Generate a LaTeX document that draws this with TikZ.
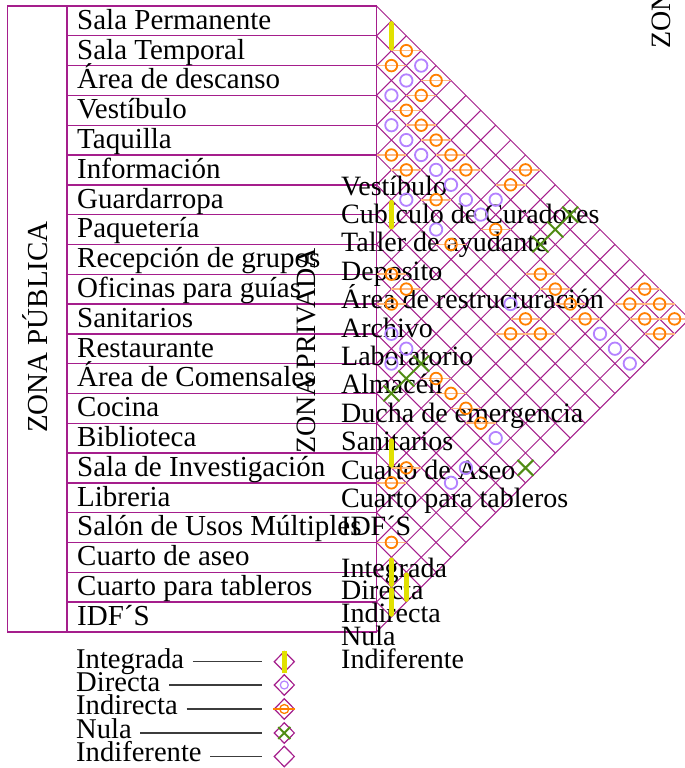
\documentclass[tikz,border=0pt]{standalone}
\usepackage{fontspec}
\setmainfont{Liberation Serif}
\usetikzlibrary{shapes.geometric,calc}
\definecolor{mag}{RGB}{165,30,140}
\definecolor{orC}{RGB}{255,128,0}
\definecolor{orL}{RGB}{255,185,130}
\definecolor{purC}{RGB}{180,130,255}
\definecolor{yelC}{RGB}{225,225,0}
\definecolor{grnC}{RGB}{80,140,20}
\definecolor{legC}{RGB}{60,60,60}
\def\mgx{376.5}
\def\mgy{6}
\def\mgh{14.9}
\begin{document}
\begin{tikzpicture}[x=1pt,y=-1pt,font=\fontsize{28}{28}\selectfont,
  lbl/.style={anchor=base west,inner sep=0pt},
  publbl/.style={anchor=base west,inner sep=0pt,font=\fontsize{29}{29}\selectfont},
  leglbl/.style={anchor=base west,inner sep=0pt,font=\fontsize{28.6}{28.6}\selectfont},
  gridln/.style={draw=mag,line width=1pt},
  tabln/.style={draw=mag,line width=1.4pt},
  orln/.style={draw=orL,line width=1.6pt},
  orcirc/.style={draw=orC,line width=1.8pt},
  purcirc/.style={draw=purC,line width=1.8pt},
  yelbar/.style={draw=yelC,line width=5.5pt,line cap=round},
  grnx/.style={draw=grnC,line width=2pt},
  legdia/.style={diamond,draw=mag,line width=1.2pt,minimum width=20.6pt,minimum height=21pt,inner sep=0pt},
  legln/.style={draw=legC,line width=1.2pt,shorten <=8.5pt,shorten >=11pt}]
\useasboundingbox (0,0) rectangle (685,768);
\fill[white] (0,0) rectangle (685,768);

% public table
\draw[tabln] (7.5,6) rectangle (376.5,632);
\draw[tabln] (67,6) -- (67,632);
\foreach \k in {1,...,20} \draw[tabln] (67,{6+\k*29.8}) -- (376.5,{6+\k*29.8});

% diamond grid
\foreach \k in {0,...,21} {
  \draw[gridln] (\mgx,{\mgy+2*\k*\mgh}) -- ({\mgx+(21-\k)*\mgh},{\mgy+(21+\k)*\mgh});
  \draw[gridln] (\mgx,{\mgy+2*\k*\mgh}) -- ({\mgx+\k*\mgh},{\mgy+\k*\mgh});
}

% public labels
\foreach \t [count=\i] in {Sala Permanente,Sala Temporal,Área de descanso,Vestíbulo,Taquilla,Información,Guardarropa,Paquetería,Recepción de grupos,Oficinas para guías,Sanitarios,Restaurante,Área de Comensales,Cocina,Biblioteca,Sala de Investigación,Libreria,Salón de Usos Múltiples,Cuarto de aseo,Cuarto para tableros,IDF´S}
  \node[publbl] (pub\i) at (77,{6+(\i-1)*29.8+23.3}) {\t};
\node[rotate=90,anchor=base,inner sep=0pt,font=\fontsize{29}{29}\selectfont] (zpub) at (47.5,327) {ZONA PÚBLICA};

% private labels (overlaid)
\foreach \t [count=\i] in {Vestíbulo,Cubículo de Curadores,Taller de ayudante,Deposito,Área de restructuración,Archivo,Laboratorio,Almacén,Ducha de emergencia,Sanitarios,Cuarto de Aseo,Cuarto para tableros,IDF´S}
  \node[lbl] (prv\i) at (341,{195+(\i-1)*28.4}) {\t};
\foreach \t [count=\i] in {Integrada,Directa,Indirecta,Nula,Indiferente}
  \node[lbl] (prl\i) at (341,{577+(\i-1)*22.75}) {\t};
\node[rotate=90,anchor=base,inner sep=0pt] (zprv) at (315,351) {ZONA PRIVADA};
\node[rotate=90,anchor=base west,inner sep=0pt] (zprv2) at (670,49) {ZON};

% markers: indirecta
\foreach \a/\b in {2/3,1/4,4/5,3/6,2/7,3/8,4/9,1/10,5/10,2/11,6/11,10/11,9/12,4/13,8/15,5/16,1/18,11/18,2/19,12/19,18/19,1/20,13/20,17/20,19/20,10/21,14/21,18/21,20/21,9/22,11/22,19/22,4/25,5/26,6/27,7/28,2/31,1/32,1/36} {
  \pgfmathsetmacro\cx{\mgx+\a*\mgh}
  \pgfmathsetmacro\cy{\mgy+\b*\mgh}
  \draw[orln] ({\cx-\mgh},\cy) -- ({\cx+\mgh},\cy);
  \draw[orcirc] (\cx,\cy) circle[radius=5.8pt];
}
% directa
\foreach \a/\b in {3/4,2/5,1/6,1/8,2/9,3/10,4/11,5/12,2/13,6/13,8/13,7/14,4/15,9/20,1/22,15/22,2/23,16/23,1/24,17/24,8/29,6/31,5/32} {
  \pgfmathsetmacro\cx{\mgx+\a*\mgh}
  \pgfmathsetmacro\cy{\mgy+\b*\mgh}
  \draw[purcirc] (\cx,\cy) circle[radius=6.2pt];
}
% integrada
\foreach \a/\b in {1/2,1/14,1/30,1/38,2/39,1/40} {
  \pgfmathsetmacro\cx{\mgx+\a*\mgh}
  \pgfmathsetmacro\cy{\mgy+\b*\mgh}
  \draw[yelbar] (\cx,{\cy-12}) -- (\cx,{\cy+12});
}
% nula
\foreach \a/\b in {13/14,12/15,11/16,3/24,2/25,1/26,10/31} {
  \pgfmathsetmacro\cx{\mgx+\a*\mgh}
  \pgfmathsetmacro\cy{\mgy+\b*\mgh}
  \draw[grnx] ({\cx-8},{\cy-8}) -- ({\cx+8},{\cy+8}) ({\cx-8},{\cy+8}) -- ({\cx+8},{\cy-8});
}

% legend
\node[leglbl] (lg1) at (76,668) {Integrada};
\node[leglbl] (lg2) at (76,691.3) {Directa};
\node[leglbl] (lg3) at (76,714.7) {Indirecta};
\node[leglbl] (lg4) at (76,738) {Nula};
\node[leglbl] (lg5) at (76,761.3) {Indiferente};
\node[legdia] (dg1) at (284.3,661.7) {};
\node[legdia] (dg2) at (284.3,685) {};
\node[legdia] (dg3) at (284.3,709) {};
\node[legdia] (dg4) at (284.3,733) {};
\node[legdia] (dg5) at (284.3,756.5) {};
\foreach \i in {1,...,5} \draw[legln] (lg\i.east |- dg\i.center) -- (dg\i.west);
\draw[draw=yelC,line width=5pt] (dg1.north) -- (dg1.south);
\draw[purcirc,line width=1.2pt] (dg2.center) circle[radius=4pt];
\draw[draw=orC,line width=1.2pt] (dg3.west) -- (dg3.east);
\draw[orcirc,line width=1.3pt] (dg3.center) circle[radius=4.5pt];
\draw[grnx] ($(dg4.center)+(-6,-6)$) -- ($(dg4.center)+(6,6)$) ($(dg4.center)+(-6,6)$) -- ($(dg4.center)+(6,-6)$);
\end{tikzpicture}
\end{document}
